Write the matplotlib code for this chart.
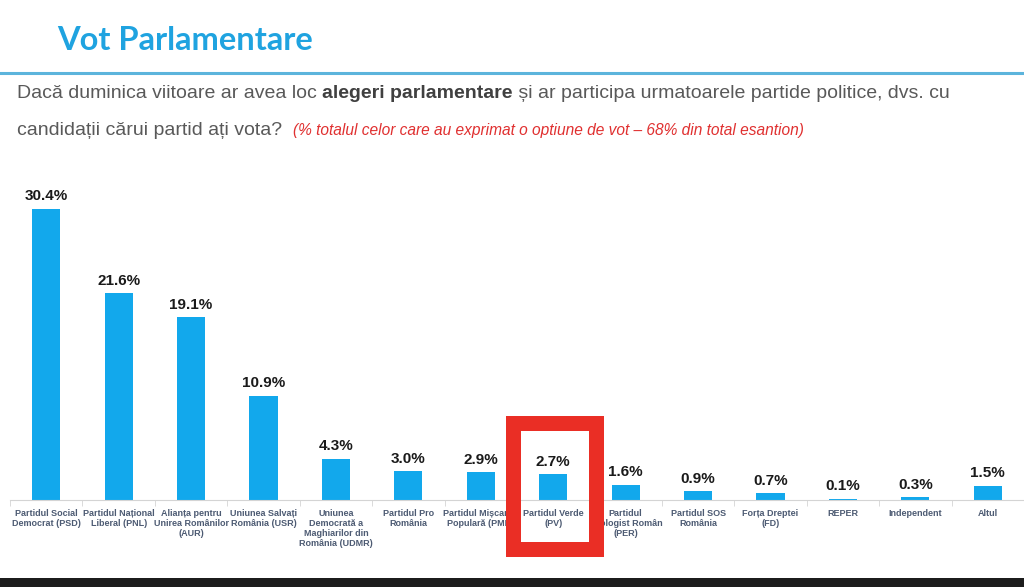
import numpy as np
import matplotlib.pyplot as plt
from matplotlib.patches import Rectangle

# poll values, in percent
parties = [
    "Partidul Social\nDemocrat (PSD)",
    "Partidul Național\nLiberal (PNL)",
    "Alianța pentru\nUnirea Românilor\n(AUR)",
    "Uniunea Salvați\nRomânia (USR)",
    "Uniunea\nDemocrată a\nMaghiarilor din\nRomânia (UDMR)",
    "Partidul Pro\nRomânia",
    "Partidul Mișcarea\nPopulară (PMP)",
    "Partidul Verde\n(PV)",
    "Partidul\nEcologist Român\n(PER)",
    "Partidul SOS\nRomânia",
    "Forța Dreptei\n(FD)",
    "REPER",
    "Independent",
    "Altul",
]
values = [30.4, 21.6, 19.1, 10.9, 4.3, 3.0, 2.9, 2.7, 1.6, 0.9, 0.7, 0.1, 0.3, 1.5]
value_labels = ["{:.1f}%".format(v) for v in values]
highlight = 7  # Partidul Verde

BLUE = "#12a8ec"
W, H = 1024, 587

fig = plt.figure(figsize=(W / 100, H / 100), dpi=100)
fig.patch.set_facecolor("white")

# axes: baseline at y=500px, slots from x=10 to 1024
ax = fig.add_axes([10 / W, (H - 500) / H, 1014 / W, 316 / H])
ind = np.arange(len(values))
bars = ax.bar(ind, values, 0.39, color=BLUE, zorder=2)
ax.set_xlim(-0.5, len(values) - 0.5)
ax.set_ylim(0, 33)

for b, lab in zip(bars, value_labels):
    ax.annotate(lab, (b.get_x() + b.get_width() / 2, b.get_height()),
                xytext=(0, 4), textcoords="offset points", ha="center", va="bottom",
                fontsize=11, fontweight="bold", color="#1a1a1a",
                family="Liberation Sans")

for s in ["top", "right", "left"]:
    ax.spines[s].set_visible(False)
ax.spines["bottom"].set_color("#d4d4d4")
ax.set_yticks([])
ax.set_xticks(ind)
ax.set_xticklabels(parties, fontsize=6.5, fontweight="bold", color="#4d5b73",
                   family="Liberation Sans", linespacing=1.15)
ax.tick_params(axis="x", which="major", length=0, pad=6.5)
ax.set_xticks(np.arange(-0.5, len(values), 1.0), minor=True)
ax.tick_params(axis="x", which="minor", length=4, color="#d4d4d4")

# red highlight box around Partidul Verde
box = Rectangle((highlight - 0.56, -5.1), 1.144, 13.15, fill=False,
                edgecolor="#ea2e25", linewidth=10.8, clip_on=False, zorder=5)
ax.add_patch(box)

# title + rule
fig.text(57 / W, 1 - 40 / H, "Vot Parlamentare", fontsize=23.5, fontweight="bold",
         color="#1fa3e0", family="Lato", va="center", ha="left")
fig.add_artist(plt.Line2D([0, 1], [1 - 73 / H] * 2, color="#5cb4dc", linewidth=2.2))

# question text, built piece by piece
GRAY = "#595959"
FS = 14
t = fig.text(17 / W, 1 - 102 / H, "Dacă duminica viitoare ar avea loc ",
             fontsize=FS, color=GRAY, family="Liberation Sans", va="bottom")
t = ax.annotate("alegeri parlamentare", xy=(1, 0), xycoords=t, va="bottom",
                fontsize=FS, color="#404040", fontweight="bold", family="Liberation Sans")
t = ax.annotate(" și ar participa urmatoarele partide politice, dvs. cu", xy=(1, 0),
                xycoords=t, va="bottom", fontsize=FS, color=GRAY, family="Liberation Sans")
t = fig.text(17 / W, 1 - 139 / H, "candidații cărui partid ați vota?  ",
             fontsize=FS, color=GRAY, family="Liberation Sans", va="bottom")
ax.annotate("(% totalul celor care au exprimat o optiune de vot – 68% din total esantion)",
            xy=(1, 0), xycoords=t, xytext=(0, 1), textcoords="offset points",
            va="bottom", fontsize=11.2, color="#e03030",
            style="italic", family="Liberation Sans")

# dark strip at the bottom
fig.add_artist(Rectangle((0, 0), 1, 9 / H, transform=fig.transFigure,
                         facecolor="#1c1c1c", edgecolor="none"))

fig.savefig("out.png", dpi=100, facecolor="white")
